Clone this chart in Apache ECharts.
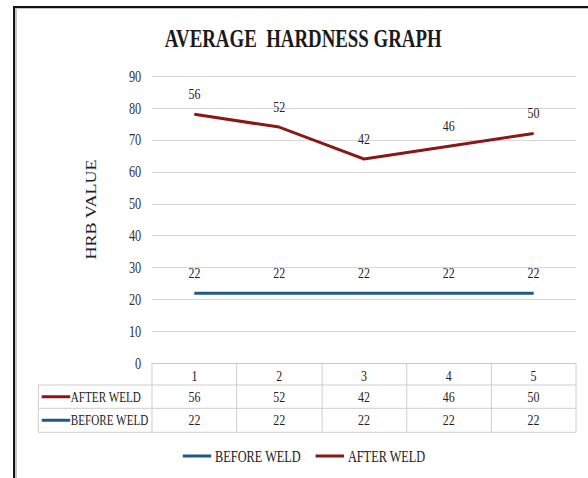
<!DOCTYPE html>
<html>
<head>
<meta charset="utf-8">
<title>Average Hardness Graph</title>
<script src="https://cdn.jsdelivr.net/npm/echarts@6/dist/echarts.min.js"></script>
<style>
  html, body { margin: 0; padding: 0; background: #fff; overflow: hidden; }
  #wrap { position: relative; width: 588px; height: 478px; background: #fff; }
  /* chart is laid out wide, then condensed horizontally */
  #chart { position: absolute; left: 0; top: 0; width: 764px; height: 478px; transform: scaleX(0.7696); transform-origin: 0 0; }
  /* dark top and left edges of the chart frame, with a soft grey inner edge */
  #frame { position: absolute; left: 13px; top: 6px; width: 620px; height: 500px;
           border-left: 2.5px solid #111; border-top: 2px solid #111;
           box-shadow: inset 2px 1px 0 #c4c4c4; pointer-events: none; }
</style>
</head>
<body>
<div id="wrap"><div id="chart"></div><div id="frame"></div></div>
<script>
const categories = ['1', '2', '3', '4', '5'];
const afterWeld = [56, 52, 42, 46, 50];
const beforeWeld = [22, 22, 22, 22, 22];
const yMin = 0, yMax = 90, yStep = 10;

const FONT = '"Liberation Serif", "Times New Roman", serif';
const BLUE = '#205b88';
const RED = '#8a1616';
const GRID_GRAY = '#d2d2d2';
const TABLE_GRAY = '#c8c8c8';
const W = 764;

const chart = echarts.init(document.getElementById('chart'), null, { renderer: 'svg' });

const gridLeft = 197.5, gridRight = 15.6, gridTop = 76, gridBottom = 114.5;
const axisY = 478 - gridBottom;        // top of the data table
const row1 = 385, row2 = 408.3, row3 = 432.3;
const tableLeft = 49.8, tableRight = W - gridRight;

const labelStyle = { show: true, position: 'top', distance: 12, fontFamily: FONT, fontSize: 15.5, color: '#222' };

chart.setOption({
  animation: false,
  backgroundColor: '#fff',
  title: {
    text: 'AVERAGE\u00a0\u00a0HARDNESS GRAPH',
    left: 389,
    top: 22,
    textAlign: 'center',
    textStyle: { fontFamily: FONT, fontSize: 24.5, fontWeight: 'bold', color: '#1a1a1a' }
  },
  legend: {
    data: ['BEFORE WELD', 'AFTER WELD'],
    left: 232.5,
    top: 443,
    icon: 'rect',
    itemWidth: 37,
    itemHeight: 3,
    itemGap: 19,
    selectedMode: false,
    textStyle: { fontFamily: FONT, fontSize: 16, color: '#222' }
  },
  grid: { left: gridLeft, right: gridRight, top: gridTop, bottom: gridBottom },
  xAxis: {
    type: 'category',
    data: categories,
    boundaryGap: true,
    axisLine: { show: true, lineStyle: { color: TABLE_GRAY, width: 1 } },
    axisTick: { show: true, length: row3 - axisY, lineStyle: { color: TABLE_GRAY, width: 1 } },
    axisLabel: { margin: 4, fontFamily: FONT, fontSize: 15.5, color: '#222' },
    splitLine: { show: false }
  },
  yAxis: {
    type: 'value',
    min: yMin,
    max: yMax,
    interval: yStep,
    axisLine: { show: false },
    axisTick: { show: false },
    axisLabel: { margin: 14, fontFamily: FONT, fontSize: 16, color: '#333' },
    splitLine: { lineStyle: { color: GRID_GRAY, width: 1 } }
  },
  series: [
    {
      name: 'BEFORE WELD',
      type: 'line',
      stack: 'hardness',
      data: beforeWeld,
      symbol: 'circle',
      symbolSize: 1,
      showSymbol: true,
      color: BLUE,
      itemStyle: { color: BLUE },
      lineStyle: { width: 3, color: BLUE },
      label: labelStyle
    },
    {
      name: 'AFTER WELD',
      type: 'line',
      stack: 'hardness',
      data: afterWeld,
      symbol: 'circle',
      symbolSize: 1,
      showSymbol: true,
      color: RED,
      itemStyle: { color: RED },
      lineStyle: { width: 3, color: RED },
      label: labelStyle
    }
  ]
});

// Data table under the plot
const rows = [
  { name: 'AFTER WELD', values: afterWeld, color: RED, top: row1, bottom: row2 },
  { name: 'BEFORE WELD', values: beforeWeld, color: BLUE, top: row2, bottom: row3 }
];

const graphic = [];
[row1, row2, row3].forEach(function (y) {
  graphic.push({ type: 'line', shape: { x1: tableLeft, y1: y, x2: tableRight, y2: y }, style: { stroke: TABLE_GRAY, lineWidth: 1 } });
});
graphic.push({ type: 'line', shape: { x1: tableLeft, y1: row1, x2: tableLeft, y2: row3 }, style: { stroke: TABLE_GRAY, lineWidth: 1 } });

rows.forEach(function (r) {
  const cy = (r.top + r.bottom) / 2;
  graphic.push({ type: 'rect', shape: { x: 54.2, y: cy - 1.5, width: 37, height: 3 }, style: { fill: r.color } });
  graphic.push({
    type: 'text', x: 92, y: cy,
    style: { text: r.name, fontFamily: FONT, fontSize: 14.5, fill: '#222', align: 'left', verticalAlign: 'middle' }
  });
  r.values.forEach(function (v, i) {
    const px = chart.convertToPixel({ xAxisIndex: 0 }, i);
    graphic.push({
      type: 'text', x: px, y: cy,
      style: { text: String(v), fontFamily: FONT, fontSize: 15.5, fill: '#222', align: 'center', verticalAlign: 'middle' }
    });
  });
});

// axis title, set slightly above the plot's middle
graphic.push({
  type: 'text', x: 118.6, y: 209.5, rotation: Math.PI / 2,
  style: { text: 'HRB VALUE', fontFamily: FONT, fontSize: 18, fill: '#222', align: 'center', verticalAlign: 'middle' }
});

chart.setOption({ graphic: graphic });
</script>
</body>
</html>
